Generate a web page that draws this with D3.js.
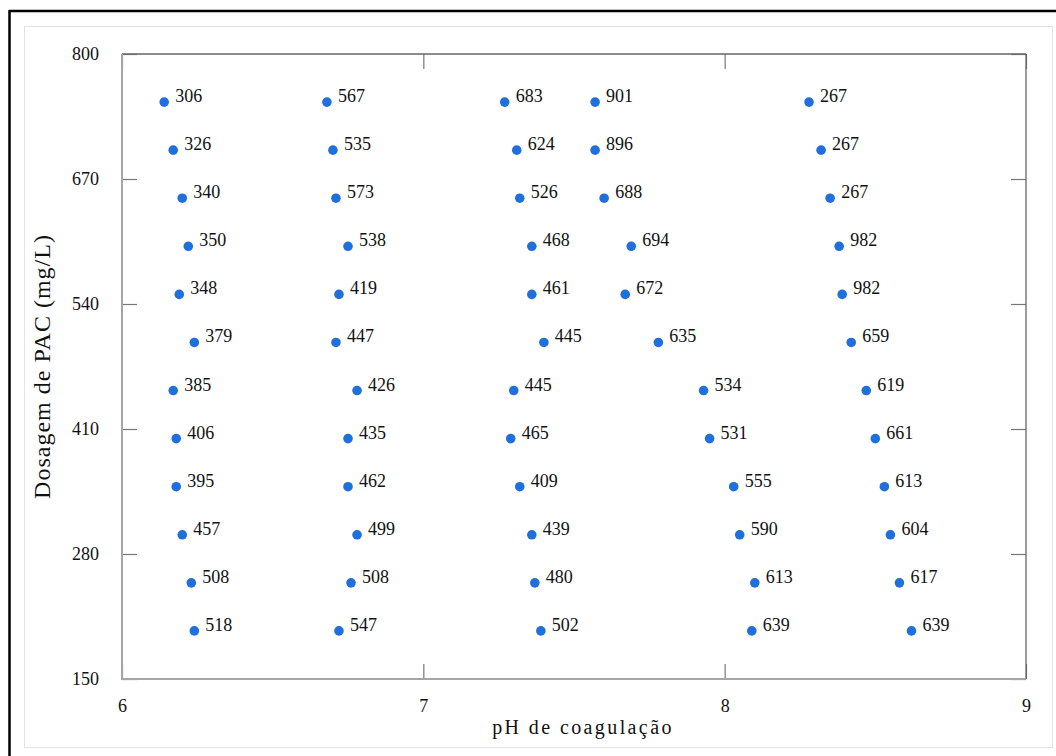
<!DOCTYPE html>
<html>
<head>
<meta charset="utf-8">
<script src="https://cdn.jsdelivr.net/npm/d3@7"></script>
<style>
  body { margin: 0; background: #fff; }
</style>
</head>
<body>
<div id="chart"></div>
<script>
// dosagem de PAC (mg/L) for each row
var dosagem = [750, 700, 650, 600, 550, 500, 450, 400, 350, 300, 250, 200];

// pH de coagulação for each group (one column of points)
var phA = [6.14, 6.17, 6.20, 6.22, 6.19, 6.24, 6.17, 6.18, 6.18, 6.20, 6.23, 6.24];
var phB = [6.68, 6.70, 6.71, 6.75, 6.72, 6.71, 6.78, 6.75, 6.75, 6.78, 6.76, 6.72];
var phC = [7.27, 7.31, 7.32, 7.36, 7.36, 7.40, 7.30, 7.29, 7.32, 7.36, 7.37, 7.39];
var phD = [7.57, 7.57, 7.60, 7.69, 7.67, 7.78, 7.93, 7.95, 8.03, 8.05, 8.10, 8.09];
var phE = [8.28, 8.32, 8.35, 8.38, 8.39, 8.42, 8.47, 8.50, 8.53, 8.55, 8.58, 8.62];

// value written next to each point
var labA = [306, 326, 340, 350, 348, 379, 385, 406, 395, 457, 508, 518];
var labB = [567, 535, 573, 538, 419, 447, 426, 435, 462, 499, 508, 547];
var labC = [683, 624, 526, 468, 461, 445, 445, 465, 409, 439, 480, 502];
var labD = [901, 896, 688, 694, 672, 635, 534, 531, 555, 590, 613, 639];
var labE = [267, 267, 267, 982, 982, 659, 619, 661, 613, 604, 617, 639];

var xTicks = [6, 7, 8, 9];
var yTicks = [150, 280, 410, 540, 670, 800];

var serif = "'Liberation Serif', 'Times New Roman', Times, serif";

var svgWidth = 1056;
var svgHeight = 756;
var margin = { top: 54, right: 30, bottom: 77, left: 122 };
var width = svgWidth - margin.left - margin.right;
var height = svgHeight - margin.top - margin.bottom;

var svg = d3.select("#chart")
  .append("svg")
  .attr("width", svgWidth)
  .attr("height", svgHeight)
  .style("font-family", serif);

// outer frames
svg.append("rect")
  .attr("x", 24.5).attr("y", 26.5)
  .attr("width", 1028).attr("height", 721)
  .attr("fill", "none")
  .attr("stroke", "#e3e3e3");
svg.append("line")
  .attr("x1", 9).attr("x2", svgWidth).attr("y1", 11).attr("y2", 11)
  .attr("stroke", "#000").attr("stroke-width", 2.5);
svg.append("line")
  .attr("x1", 9.5).attr("x2", 9.5).attr("y1", 10).attr("y2", svgHeight)
  .attr("stroke", "#000").attr("stroke-width", 2.5);

var chartGroup = svg.append("g")
  .attr("transform", `translate(${margin.left}, ${margin.top})`);

var x = d3.scaleLinear().domain([6, 9]).range([0, width]);
var y = d3.scaleLinear().domain([150, 800]).range([height, 0]);

// axes (ticks pointing inward)
var bottomAxis = d3.axisBottom(x).tickValues(xTicks).tickSizeInner(-15).tickSizeOuter(0).tickPadding(20).tickFormat(d3.format("d"));
var topAxis = d3.axisTop(x).tickValues(xTicks).tickSizeInner(-15).tickSizeOuter(0).tickFormat("");
var leftAxis = d3.axisLeft(y).tickValues(yTicks).tickSizeInner(-15).tickSizeOuter(0).tickPadding(23).tickFormat(d3.format("d"));
var rightAxis = d3.axisRight(y).tickValues(yTicks).tickSizeInner(-15).tickSizeOuter(0).tickFormat("");

var axes = [
  chartGroup.append("g").attr("transform", `translate(0, ${height})`).call(bottomAxis),
  chartGroup.append("g").call(topAxis),
  chartGroup.append("g").call(leftAxis),
  chartGroup.append("g").attr("transform", `translate(${width}, 0)`).call(rightAxis)
];
axes.forEach(function(a) {
  a.attr("font-family", serif).attr("font-size", 18);
  a.select(".domain").remove();
  a.selectAll(".tick line").attr("stroke", "#777").attr("stroke-width", 1.2);
  a.selectAll(".tick text").attr("fill", "#111");
});

// plot box
chartGroup.append("line").attr("x1", 0).attr("x2", width).attr("y1", 0).attr("y2", 0)
  .attr("stroke", "#666").attr("stroke-width", 1.3);
chartGroup.append("line").attr("x1", width).attr("x2", width).attr("y1", 0).attr("y2", height)
  .attr("stroke", "#666").attr("stroke-width", 1.3);
chartGroup.append("line").attr("x1", 0).attr("x2", 0).attr("y1", 0).attr("y2", height + 1)
  .attr("stroke", "#a5a5a5").attr("stroke-width", 2);
chartGroup.append("line").attr("x1", 0).attr("x2", width).attr("y1", height).attr("y2", height)
  .attr("stroke", "#a5a5a5").attr("stroke-width", 2);

// build points
var groups = [[phA, labA], [phB, labB], [phC, labC], [phD, labD], [phE, labE]];
var data = [];
groups.forEach(function(g) {
  dosagem.forEach(function(d, i) {
    data.push({ ph: g[0][i], dose: d, label: g[1][i] });
  });
});

chartGroup.selectAll("circle")
  .data(data)
  .enter()
  .append("circle")
  .attr("cx", d => x(d.ph))
  .attr("cy", d => y(d.dose))
  .attr("r", 4.8)
  .attr("fill", "#1f70dc");

chartGroup.selectAll(".ptLabel")
  .data(data)
  .enter()
  .append("text")
  .attr("class", "ptLabel")
  .attr("x", d => x(d.ph) + 11)
  .attr("y", d => y(d.dose))
  .attr("fill", "#111")
  .style("font-family", serif)
  .style("font-size", "18px")
  .text(d => d.label);

// axis titles
chartGroup.append("text")
  .attr("transform", "rotate(-90)")
  .attr("x", 0 - (height / 2))
  .attr("y", -72)
  .attr("text-anchor", "middle")
  .attr("fill", "#111")
  .style("font-family", serif)
  .style("font-size", "24px")
  .style("letter-spacing", "1px")
  .text("Dosagem de PAC (mg/L)");

chartGroup.append("text")
  .attr("x", width / 2 + 9)
  .attr("y", height + 55)
  .attr("text-anchor", "middle")
  .attr("fill", "#111")
  .style("font-family", serif)
  .style("font-size", "20px")
  .style("letter-spacing", "2.4px")
  .text("pH de coagulação");
</script>
</body>
</html>
